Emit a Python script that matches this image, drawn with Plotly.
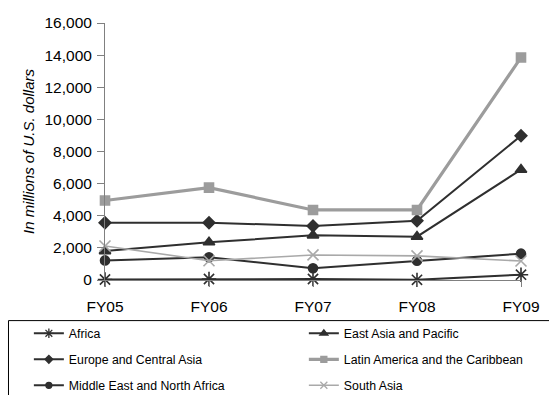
import plotly.graph_objects as go

# Fiscal years on the category axis
years = ["FY05", "FY06", "FY07", "FY08", "FY09"]

# Commitments by region, in millions of U.S. dollars
africa = [30, 60, 60, 10, 330]
east_asia_pacific = [1800, 2350, 2780, 2700, 6870]
europe_central_asia = [3570, 3570, 3360, 3690, 8980]
latin_america_caribbean = [4950, 5750, 4360, 4360, 13850]
middle_east_north_africa = [1220, 1420, 730, 1200, 1640]
south_asia = [2120, 1200, 1560, 1500, 1180]

y_ticks = [0, 2000, 4000, 6000, 8000, 10000, 12000, 14000, 16000]

DARK = "#2f2f2f"
GRAY = "#9c9c9c"
LIGHT = "#a9a9a9"

# name, values, colour, line width, marker symbol, marker size, legend marker size, legend column
series = [
    ("Africa", africa, DARK, 2, "asterisk-open", 12, 8, "legend"),
    ("East Asia and Pacific", east_asia_pacific, DARK, 2, "triangle-up", 10, 7, "legend2"),
    ("Europe and Central Asia", europe_central_asia, DARK, 2, "diamond", 9, 6, "legend"),
    ("Latin America and the Caribbean", latin_america_caribbean, GRAY, 3.2, "square", 9, 6, "legend2"),
    ("Middle East and North Africa", middle_east_north_africa, DARK, 2, "circle", 9, 6, "legend"),
    ("South Asia", south_asia, LIGHT, 1.6, "x-thin-open", 11, 7, "legend2"),
]

xpos = list(range(len(years)))

fig = go.Figure()
for name, vals, color, width, symbol, size, lsize, leg in series:
    fig.add_trace(go.Scatter(
        x=xpos, y=vals, name=name, mode="lines+markers",
        showlegend=False, legendgroup=name,
        line=dict(color=color, width=width),
        marker=dict(symbol=symbol, size=size, color=color,
                    line=dict(color=color, width=1.6)),
        cliponaxis=False,
    ))
    # key entry with a smaller symbol
    fig.add_trace(go.Scatter(
        x=[None], y=[None], name=name, mode="lines+markers",
        legend=leg, legendgroup=name,
        line=dict(color=color, width=width),
        marker=dict(symbol=symbol, size=lsize, color=color,
                    line=dict(color=color, width=1.3)),
    ))

legend_style = dict(
    orientation="v",
    xanchor="left", yanchor="top",
    y=-0.151,
    borderwidth=0,
    bgcolor="rgba(0,0,0,0)",
    font=dict(size=12.3, color="#000000"),
    itemwidth=30,
    tracegroupgap=7,
)

fig.update_layout(
    width=549, height=395,
    margin=dict(l=105, r=28, t=23, b=115, autoexpand=False),
    paper_bgcolor="white", plot_bgcolor="white",
    font=dict(family="Liberation Sans, Arial, sans-serif", color="#000000"),
    showlegend=True,
    legend=dict(x=-0.183, **legend_style),
    legend2=dict(x=0.478, **legend_style),
    # frame around the two legend columns
    shapes=[dict(
        type="rect", xref="paper", yref="paper",
        x0=-0.232, x1=1.2, y0=-0.158, y1=-0.6,
        line=dict(color="#000000", width=1),
        fillcolor="rgba(0,0,0,0)", layer="below",
    )],
)

fig.update_xaxes(
    range=[0, 4],
    tickmode="array", tickvals=xpos, ticktext=years,
    showgrid=False, zeroline=False,
    showline=True, linecolor="#808080", linewidth=1,
    ticks="outside", ticklen=6, tickcolor="#808080",
    ticklabelstandoff=6,
    tickfont=dict(size=15.5),
)

fig.update_yaxes(
    range=[0, 16000],
    tickmode="array", tickvals=y_ticks, tickformat=",d",
    showgrid=False, zeroline=False,
    showline=True, linecolor="#808080", linewidth=1,
    ticks="outside", ticklen=7, tickcolor="#808080",
    ticklabelstandoff=2,
    tickfont=dict(size=15.5),
    title=dict(text="<i>In millions of U.S. dollars</i>", font=dict(size=15), standoff=6),
)

fig.write_html("out.html")
